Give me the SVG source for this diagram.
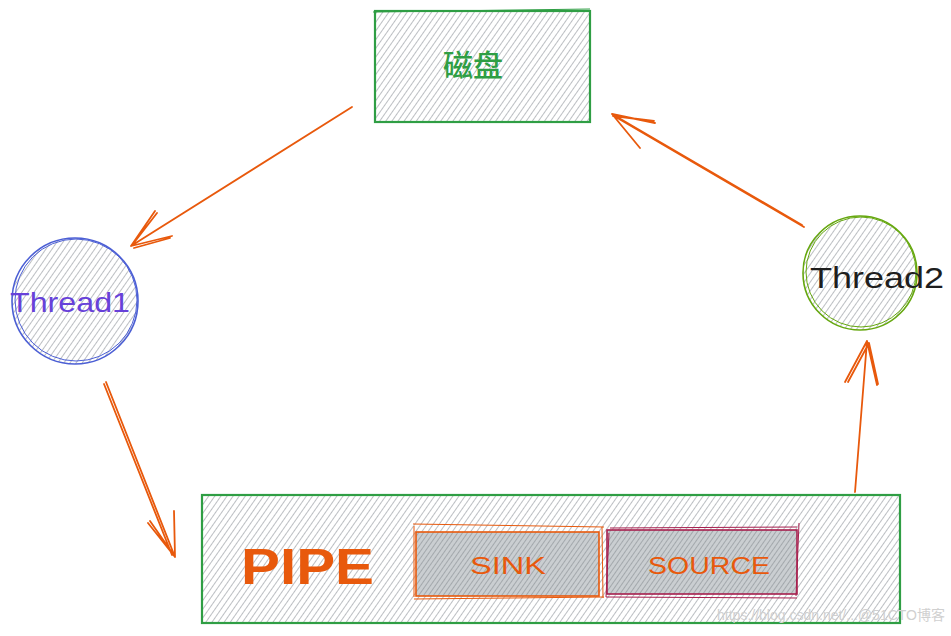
<svg xmlns="http://www.w3.org/2000/svg" width="951" height="636" viewBox="0 0 951 636">
<defs>
<pattern id="hatch" patternUnits="userSpaceOnUse" width="5" height="5" patternTransform="rotate(35)">
<line x1="0" y1="0" x2="0" y2="5" stroke="#979ca2" stroke-width="1.3"/>
</pattern>
<pattern id="hatchDark" patternUnits="userSpaceOnUse" width="4" height="4" patternTransform="rotate(35)">
<rect width="4" height="4" fill="#caced1"/>
<line x1="0" y1="0" x2="0" y2="4" stroke="#8e9398" stroke-width="1.3"/>
</pattern>
</defs>
<style>
.arrow{fill:none;stroke:#e8590c;stroke-width:1.8;stroke-linecap:round;stroke-linejoin:round}
.lbl{font-family:"Liberation Sans","Noto Sans CJK SC",sans-serif;text-anchor:middle}
</style>
<rect width="951" height="636" fill="#ffffff"/>

<g id="disk">
<rect x="375" y="11" width="215" height="111" fill="url(#hatch)" stroke="#2f9e44" stroke-width="2.2"/>
<path d="M373 12 L590 9" fill="none" stroke="#2f9e44" stroke-width="1"/>
<text class="lbl" x="473" y="76" font-size="30" font-weight="500" fill="#2f9e44" font-family="Noto Sans CJK SC, sans-serif">磁盘</text>
</g>

<g id="thread1">
<circle cx="75" cy="301" r="63" fill="url(#hatch)" stroke="#4c5fd5" stroke-width="1.6"/>
<circle cx="76" cy="300" r="61" fill="none" stroke="#4c5fd5" stroke-width="1"/>
<text class="lbl" x="70" y="312" font-size="28" fill="#6741d9" textLength="120" lengthAdjust="spacingAndGlyphs">Thread1</text>
</g>

<g id="thread2">
<circle cx="860" cy="273" r="57" fill="url(#hatch)" stroke="#66a80f" stroke-width="1.6"/>
<circle cx="861" cy="272" r="55" fill="none" stroke="#66a80f" stroke-width="1"/>
<text class="lbl" x="877" y="288" font-size="30" fill="#1e1e1e" textLength="134" lengthAdjust="spacingAndGlyphs">Thread2</text>
</g>

<g id="pipe">
<rect x="202" y="495" width="698" height="128" fill="url(#hatch)" stroke="#2f9e44" stroke-width="2.2"/>
<text x="241" y="584" font-size="50" font-weight="bold" fill="#e8590c" font-family="Liberation Sans, sans-serif" textLength="133" lengthAdjust="spacingAndGlyphs">PIPE</text>
</g>

<g id="sink">
<rect x="416" y="532" width="183" height="64" fill="url(#hatchDark)" stroke="#e8590c" stroke-width="1.6"/>
<path d="M413 524 L604 527 M414 599 L604 597 M414 526 L414 597 M602 527 L603 598" fill="none" stroke="#e8590c" stroke-width="1"/>
<text class="lbl" x="508" y="574" font-size="24" fill="#e8590c" textLength="76" lengthAdjust="spacingAndGlyphs">SINK</text>
</g>

<g id="source">
<rect x="607" y="530" width="190" height="64" fill="url(#hatchDark)" stroke="#a61e4d" stroke-width="1.6"/>
<path d="M610 528 L797 527 M606 597 L797 598 M609 533 L606 597 M799 523 L796 596" fill="none" stroke="#a61e4d" stroke-width="1"/>
<text class="lbl" x="709" y="574" font-size="24" fill="#e8590c" textLength="122" lengthAdjust="spacingAndGlyphs">SOURCE</text>
</g>

<g id="connectors">
<path class="arrow" d="M352 107 L131 246 M131 246 L155 211 M131 246 L172 236 M133 244 L157 213 M134 248 L170 238"/>
<path class="arrow" d="M802 225 L612 114 M612 114 L655 123 M612 114 L640 148 M804 227 L614 116 M613 116 L654 121"/>
<path class="arrow" d="M106 382 L175 557 M104 384 L172 555 M175 557 L148 523 M175 557 L174 511 M173 554 L150 521"/>
<path class="arrow" d="M855 492 L867 341 M867 341 L845 382 M867 341 L877 385 M869 343 L848 382 M869 343 L878 384" stroke-width="2"/>
</g>

<text x="945" y="620" font-size="14" fill="#d0d0d0" text-anchor="end" font-family="Liberation Sans, Noto Sans CJK SC, sans-serif">https://blog.csdn.net/...@51CTO博客</text>
</svg>
